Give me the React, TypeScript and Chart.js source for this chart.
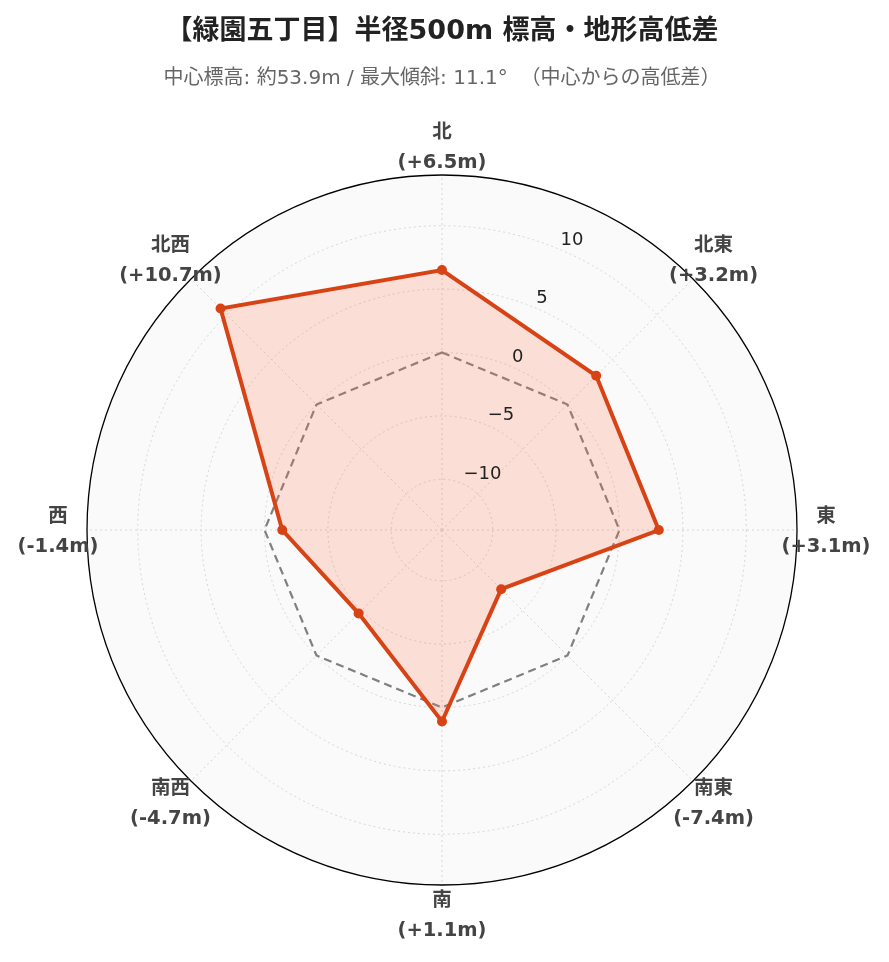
import { useEffect, useRef } from "react"
import { Chart, registerables, type ChartConfiguration, type Plugin } from "chart.js"

Chart.register(...registerables)

const directions = ["北", "北東", "東", "南東", "南", "南西", "西", "北西"]
const heightDiffs = [6.5, 3.2, 3.1, -7.4, 1.1, -4.7, -1.4, 10.7]
const baseline = [0, 0, 0, 0, 0, 0, 0, 0]
const gridValues = [-14, -10, -5, 0, 5, 10, 14]
const tickLabels = [-10, -5, 0, 5, 10]

const FONT = "'DejaVu Sans', 'Noto Sans CJK JP', sans-serif"

const fmt = (v: number) => `(${v >= 0 ? "+" : ""}${v.toFixed(1)}m)`

// circle background behind the grid
const polarBg: Plugin<"radar"> = {
  id: "polarBg",
  beforeDraw(chart) {
    const s: any = chart.scales.r
    const ctx = chart.ctx
    ctx.save()
    ctx.fillStyle = "#fafafa"
    ctx.beginPath()
    ctx.arc(s.xCenter, s.yCenter, s.drawingArea, 0, Math.PI * 2)
    ctx.fill()
    ctx.restore()
  },
}

// radial tick labels placed between N and NE, and two-line direction labels
const labelsPlugin: Plugin<"radar"> = {
  id: "labelsPlugin",
  afterDraw(chart) {
    const s: any = chart.scales.r
    const ctx = chart.ctx
    ctx.save()
    ctx.font = `18px ${FONT}`
    ctx.fillStyle = "#222"
    ctx.textAlign = "left"
    ctx.textBaseline = "middle"
    tickLabels.forEach((v) => {
      const p = s.getPointPosition(0.5, s.getDistanceFromCenterForValue(v))
      const txt = v < 0 ? `\u2212${Math.abs(v)}` : `${v}`
      ctx.fillText(txt, p.x + 2, p.y - 9)
    })
    ctx.textAlign = "center"
    ctx.fillStyle = "#444"
    ctx.font = `bold 19.5px ${FONT}`
    directions.forEach((d, i) => {
      const p = s.getPointPosition(i, s.drawingArea + 29)
      ctx.fillText(d, p.x, p.y - 13)
      ctx.fillText(fmt(heightDiffs[i]), p.x, p.y + 17)
    })
    ctx.restore()
  },
}

export default function App() {
  const canvasRef = useRef<HTMLCanvasElement>(null)
  const chartRef = useRef<Chart | null>(null)

  useEffect(() => {
    document.body.style.margin = "0"
    if (!canvasRef.current) return
    if (chartRef.current) chartRef.current.destroy()

    const config: ChartConfiguration<"radar"> = {
      type: "radar",
      data: {
        labels: directions,
        datasets: [
          {
            label: "高低差",
            data: heightDiffs,
            borderColor: "#d84315",
            backgroundColor: "rgba(255, 112, 67, 0.2)",
            borderWidth: 4,
            fill: "start",
            pointRadius: 5,
            pointBackgroundColor: "#d84315",
            pointBorderWidth: 0,
          },
          {
            label: "基準",
            data: baseline,
            borderColor: "#808080",
            borderWidth: 2.2,
            borderDash: [8, 5],
            fill: false,
            pointRadius: 0,
          },
        ],
      },
      options: {
        responsive: false,
        animation: false,
        layout: { padding: { left: 86, right: 91, bottom: 76, top: 0 } },
        plugins: {
          legend: { display: false },
          tooltip: { enabled: false },
          title: {
            display: true,
            text: "【緑園五丁目】半径500m 標高・地形高低差",
            color: "#222",
            font: { family: FONT, size: 27, weight: "bold", lineHeight: 1.2 },
            padding: { top: 16, bottom: 0 },
          },
          subtitle: {
            display: true,
            text: "中心標高: 約53.9m / 最大傾斜: 11.1°  （中心からの高低差）",
            color: "#666",
            font: { family: FONT, size: 20, lineHeight: 1.2 },
            padding: { top: 18, bottom: 84 },
          },
        },
        scales: {
          r: {
            min: -14,
            max: 14,
            afterBuildTicks: (scale: any) => {
              scale.ticks = gridValues.map((v) => ({ value: v }))
            },
            ticks: { display: false },
            pointLabels: { display: false },
            angleLines: { color: "#d6d6d6", lineWidth: 1, borderDash: [2, 3] },
            grid: {
              circular: true,
              color: (c: any) => (c.tick && c.tick.value === 14 ? "#000" : "#d6d6d6"),
              lineWidth: (c: any) => (c.tick && c.tick.value === 14 ? 1.3 : 1),
            },
            border: {
              dash: (c: any) => (c.tick && c.tick.value === 14 ? [] : [2, 3]),
            } as any,
          },
        },
      },
      plugins: [polarBg, labelsPlugin],
    }

    chartRef.current = new Chart(canvasRef.current, config)
    return () => {
      if (chartRef.current) {
        chartRef.current.destroy()
        chartRef.current = null
      }
    }
  }, [])

  return (
    <div>
      <canvas ref={canvasRef} width={889} height={962} style={{ display: "block" }} />
    </div>
  )
}
